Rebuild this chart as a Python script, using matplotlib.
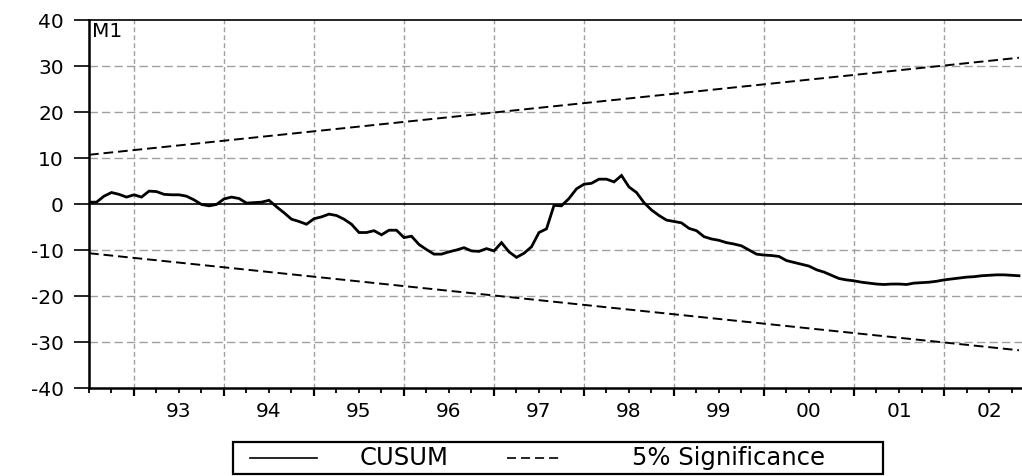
import matplotlib
matplotlib.use("Agg")
import matplotlib.pyplot as plt
from matplotlib.ticker import FixedLocator, FuncFormatter
from matplotlib.lines import Line2D
from matplotlib.patches import Rectangle

# ---------------- data ----------------
start_year = 1992
start_month = 7  # first observation: 1992M07
cusum = [0.4, 0.4, 1.7, 2.5, 2.1, 1.5, 2.0, 1.5, 2.8, 2.7,
         2.1, 2.0, 2.0, 1.7, 0.9, -0.1, -0.4, -0.1, 1.1, 1.5,
         1.2, 0.2, 0.3, 0.4, 0.8, -0.6, -1.9, -3.3, -3.8, -4.4,
         -3.2, -2.8, -2.2, -2.5, -3.3, -4.4, -6.2, -6.2, -5.8, -6.7,
         -5.7, -5.7, -7.3, -7.0, -8.8, -9.9, -10.9, -10.9, -10.4, -10.0,
         -9.5, -10.2, -10.3, -9.7, -10.2, -8.4, -10.4, -11.6, -10.7, -9.3,
         -6.2, -5.4, -0.3, -0.4, 1.2, 3.3, 4.3, 4.5, 5.4, 5.4,
         4.8, 6.2, 3.7, 2.5, 0.3, -1.3, -2.5, -3.5, -3.8, -4.1,
         -5.3, -5.8, -7.1, -7.6, -7.9, -8.4, -8.7, -9.1, -10.0, -10.9,
         -11.1, -11.2, -11.4, -12.3, -12.7, -13.1, -13.5, -14.3, -14.8, -15.5,
         -16.2, -16.5, -16.7, -17.0, -17.2, -17.4, -17.5, -17.4, -17.4, -17.5,
         -17.2, -17.1, -17.0, -16.8, -16.5, -16.3, -16.1, -15.9, -15.8, -15.6,
         -15.5, -15.4, -15.4, -15.5, -15.6]
sig_upper = [10.7, 31.8]    # at first and last observation
sig_lower = [-10.7, -31.8]
year_labels = ["93", "94", "95", "96", "97", "98", "99", "00", "01", "02"]
yticks = [-40, -30, -20, -10, 0, 10, 20, 30, 40]
series_names = ["CUSUM", "5% Significance"]
panel_label = "M1"

# ---------------- figure ----------------
plt.rcParams['font.family'] = ['DejaVu Sans']
plt.rcParams['axes.unicode_minus'] = False
plt.rcParams['lines.scale_dashes'] = False

W, H = 1022, 476
fig = plt.figure(figsize=(W / 100, H / 100), dpi=100)
ax = fig.add_axes([89 / W, (H - 388) / H, (W - 89) / W, 368 / H])

t0 = start_year + (start_month - 1) / 12.0
t = [t0 + i / 12.0 for i in range(len(cusum))]
x_end = t0 + (1022 - 89) / 7.5 / 12.0

GRID = "#a0a0a0"
for y in [-30, -20, -10, 10, 20, 30]:
    ax.axhline(y, color=GRID, lw=1.0, dashes=(6, 3), zorder=1)
years = list(range(1993, 2003))
for yr in years:
    ax.axvline(yr, color=GRID, lw=1.0, dashes=(3.5, 2.2), zorder=1)

ax.axhline(0, color="black", lw=1.2, zorder=2)
ax.plot(t, cusum, color="black", lw=2.0, zorder=3, solid_joinstyle="miter")
ax.plot([t[0], t[-1]], sig_upper, color="black", lw=1.4, dashes=(7, 3.5), zorder=3)
ax.plot([t[0], t[-1]], sig_lower, color="black", lw=1.4, dashes=(7, 3.5), zorder=3)

ax.set_xlim(t0, x_end)
ax.set_ylim(-40, 40)

ax.yaxis.set_major_locator(FixedLocator(yticks))
ax.set_yticklabels([str(v) for v in yticks])
ax.tick_params(axis="y", direction="out", length=11, width=1.2, pad=7,
               labelsize=14.5, colors="black")

ax.xaxis.set_major_locator(FixedLocator(years))
quarters = [t0 + q * 0.25 for q in range(0, 42) if t0 + q * 0.25 <= x_end]
ax.xaxis.set_minor_locator(FixedLocator(quarters))
ax.xaxis.set_major_formatter(FuncFormatter(lambda v, p: ""))

def minor_fmt(v, p):
    for yr, lab in zip(years, year_labels):
        if abs(v - (yr + 0.5)) < 1e-6:
            return lab
    return ""
ax.xaxis.set_minor_formatter(FuncFormatter(minor_fmt))
ax.tick_params(axis="x", which="major", direction="out", length=6, width=1.6)
ax.tick_params(axis="x", which="minor", direction="out", length=3.8, width=1.3,
               pad=6, labelsize=14.5)

for s in ["left", "bottom"]:
    ax.spines[s].set_linewidth(1.8)
ax.spines["top"].set_linewidth(1.2)
ax.spines["right"].set_visible(False)

ax.text(0.003, 0.995, panel_label, transform=ax.transAxes, ha="left", va="top",
        fontsize=14.5)

# ---------------- legend (box below plot) ----------------
def fx(px):
    return px / W

def fy(py):
    return 1 - py / H

fig.add_artist(Rectangle((fx(233), fy(474)), fx(883) - fx(233), fy(442) - fy(474),
                         transform=fig.transFigure, fill=False, edgecolor="black",
                         lw=1.6))
ly = fy(458)
fig.add_artist(Line2D([fx(250), fx(317)], [ly, ly], transform=fig.transFigure,
                      color="black", lw=1.2))
fig.add_artist(Line2D([fx(507), fx(563)], [ly, ly], transform=fig.transFigure,
                      color="black", lw=1.2, dashes=(6.5, 3.6)))
fig.text(fx(404), ly, series_names[0], ha="center", va="center", fontsize=17.5)
fig.text(fx(728), ly, series_names[1], ha="center", va="center", fontsize=17.5)

fig.savefig("out.png", dpi=100)
